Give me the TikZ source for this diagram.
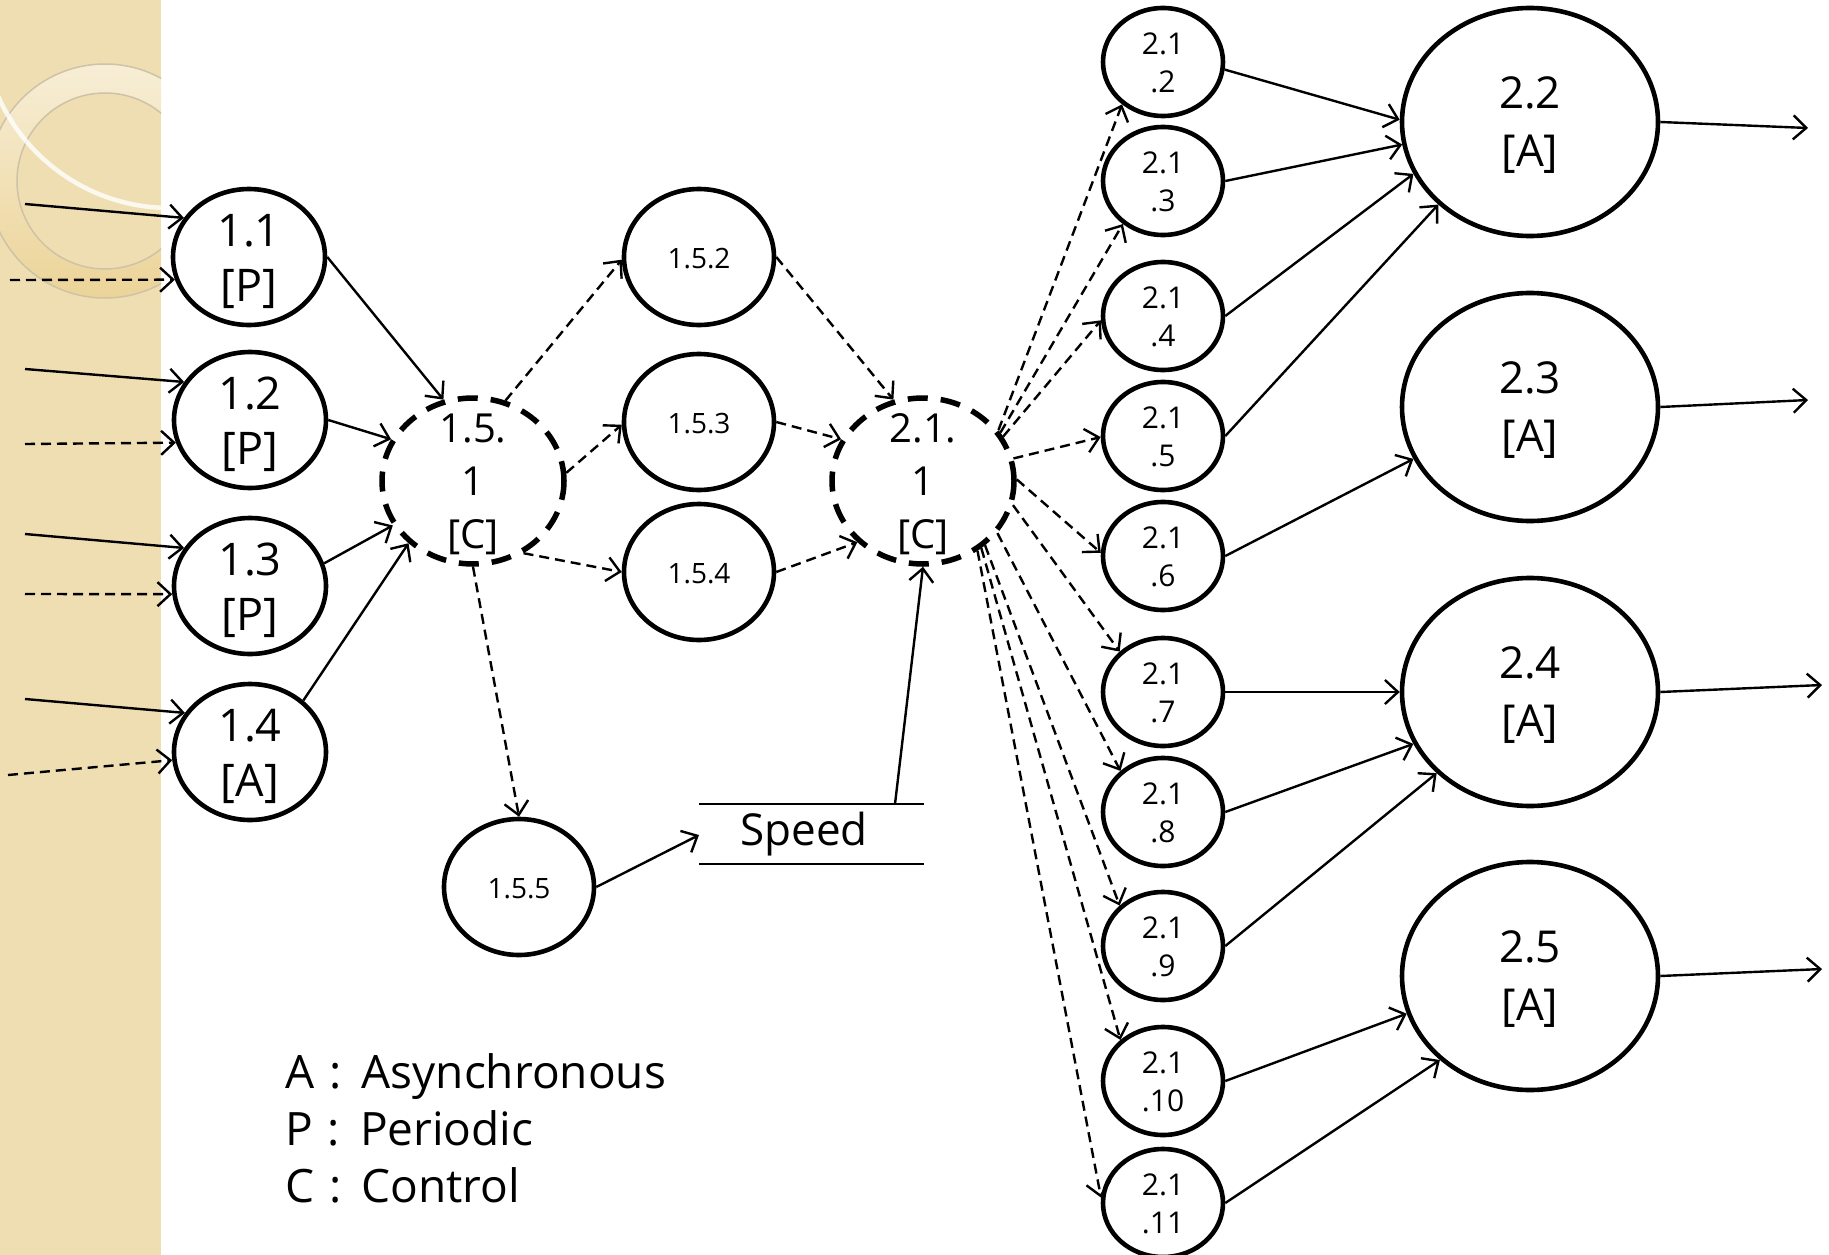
\documentclass[tikz,border=0pt]{standalone}
\usepackage{fontspec}
\setmainfont{Open Sans}
\usetikzlibrary{shapes.geometric,arrows.meta}
\definecolor{strip}{RGB}{239,222,177}
\definecolor{ringtop}{RGB}{247,238,214}
\definecolor{ringbot}{RGB}{236,212,152}
\definecolor{ringedge}{RGB}{206,195,168}
\definecolor{ink}{RGB}{0,0,0}

% invisible strut that lifts the top of a node's first text line
\newcommand{\lift}[1]{\rule{0pt}{#1}}

\tikzset{
  proc/.style={ellipse, draw=ink, line width=4.6pt, inner sep=-30pt, align=center, text=ink},
  bigproc/.style={proc, minimum width=152pt, minimum height=136pt, font=\fontsize{45}{55}\selectfont},
  midproc/.style={proc, minimum width=150pt, minimum height=136pt, font=\fontsize{28}{34}\selectfont},
  smallproc/.style={proc, minimum width=120pt, minimum height=108pt, font=\fontsize{30}{38}\selectfont},
  outproc/.style={proc, minimum width=256pt, minimum height=228pt, font=\fontsize{44}{58}\selectfont},
  ctrlproc/.style={proc, line width=5.5pt, dash pattern=on 20pt off 13pt, minimum width=182pt, minimum height=166pt, font=\fontsize{40}{53}\selectfont},
  flow/.style={line width=2.4pt, -{Straight Barb[length=13pt,width=24pt]}},
  ctl/.style={flow, dash pattern=on 10pt off 6pt},
  storeline/.style={line width=2.2pt},
  legendtext/.style={anchor=base west, inner sep=0pt, font=\fontsize{46}{57}\selectfont},
}

\begin{document}
\begin{tikzpicture}[x=1pt, y=-1pt]
\useasboundingbox (0,0) rectangle (1829,1255);

% left decorative band
\fill[strip] (0,0) rectangle (161,1255);
\begin{scope}
  \clip (0,0) rectangle (161,1255);
  \shade[top color=ringtop, bottom color=ringbot, even odd rule]
    (105,181) circle[radius=117] (105,181) circle[radius=88];
  \draw[ringedge, line width=1.5pt] (105,181) circle[radius=117];
  \draw[ringedge, line width=1.5pt] (105,181) circle[radius=88];
  \draw[white, line width=4.5pt, opacity=0.8] (170,20) circle[radius=188];
\end{scope}

% input processes
\node[bigproc] (n11) at (249,257) {\lift{42pt}1.1\\{[P]}};
\node[bigproc] (n12) at (250,420) {\lift{42pt}1.2\\{[P]}};
\node[bigproc] (n13) at (250,586) {\lift{42pt}1.3\\{[P]}};
\node[bigproc] (n14) at (250,752) {\lift{42pt}1.4\\{[A]}};

% first control process and its children
\node[ctrlproc] (n151) at (473,481) {\lift{35pt}1.5.\\1\\{[C]}};
\node[midproc] (n152) at (699,257) {\lift{24pt}1.5.2};
\node[midproc] (n153) at (699,422) {\lift{24pt}1.5.3};
\node[midproc] (n154) at (699,572) {\lift{24pt}1.5.4};
\node[midproc] (n155) at (519,887) {\lift{24pt}1.5.5};

% data store
\draw[storeline] (699,804) -- (924,804);
\draw[storeline] (699,864) -- (924,864);
\node[anchor=base, inner sep=0pt, font=\fontsize{44}{52}\selectfont] (speed) at (804,845) {Speed};
\coordinate (spin) at (699,835);
\coordinate (spout) at (895,804);

% second control process
\node[ctrlproc] (n211) at (923,481) {\lift{35pt}2.1.\\1\\{[C]}};

% sub-processes of 2.1
\node[smallproc] (n212) at (1163,62) {\lift{24pt}2.1\\.2};
\node[smallproc] (n213) at (1163,181) {\lift{24pt}2.1\\.3};
\node[smallproc] (n214) at (1163,316) {\lift{24pt}2.1\\.4};
\node[smallproc] (n215) at (1163,436) {\lift{24pt}2.1\\.5};
\node[smallproc] (n216) at (1163,556) {\lift{24pt}2.1\\.6};
\node[smallproc] (n217) at (1163,692) {\lift{24pt}2.1\\.7};
\node[smallproc] (n218) at (1163,812) {\lift{24pt}2.1\\.8};
\node[smallproc] (n219) at (1163,946) {\lift{24pt}2.1\\.9};
\node[smallproc] (n2110) at (1163,1081) {\lift{24pt}2.1\\.10};
\node[smallproc] (n2111) at (1163,1203) {\lift{24pt}2.1\\.11};

% output processes
\node[outproc] (n22) at (1530,122) {\lift{38pt}2.2\\{[A]}};
\node[outproc] (n23) at (1530,407) {\lift{38pt}2.3\\{[A]}};
\node[outproc] (n24) at (1530,692) {\lift{38pt}2.4\\{[A]}};
\node[outproc] (n25) at (1530,976) {\lift{38pt}2.5\\{[A]}};

% free ends of external flows
\coordinate (i11s) at (25,204);  \coordinate (i11d) at (10,280);
\coordinate (i12s) at (25,369);  \coordinate (i12d) at (25,444);
\coordinate (i13s) at (25,534);  \coordinate (i13d) at (25,594);
\coordinate (i14s) at (25,699);  \coordinate (i14d) at (8,775);
\coordinate (o22) at (1808,128);
\coordinate (o23) at (1808,400);
\coordinate (o24) at (1822,685);
\coordinate (o25) at (1822,969);

% external inputs
\draw[flow] (i11s) -- (n11.149);  \draw[ctl] (i11d) -- (n11.197);
\draw[flow] (i12s) -- (n12.150);  \draw[ctl] (i12d) -- (n12.197);
\draw[flow] (i13s) -- (n13.150);  \draw[ctl] (i13d) -- (n13.186);
\draw[flow] (i14s) -- (n14.149);  \draw[ctl] (i14d) -- (n14.186);

% into 1.5.1
\draw[flow] (n11.0) -- (n151.110);
\draw[flow] (n12.0) -- (n151.153);
\draw[flow] (n13.17) -- (n151.209);
\draw[flow] (n14.44) -- (n151.224);

% control from 1.5.1
\draw[ctl] (n151.68) -- (n152.182);
\draw[ctl] (n151.5) -- (n153.182);
\draw[ctl] (n151.-55) -- (n154.180);
\draw[ctl] (n151.270) -- (n155.90);

% into 2.1.1
\draw[ctl] (n152.0) -- (n211.110);
\draw[ctl] (n153.0) -- (n211.153);
\draw[ctl] (n154.0) -- (n211.223);
\draw[flow] (n155.0) -- (spin);
\draw[flow] (spout) -- (n211.270);

% control fan from 2.1.1
\draw[ctl] (n211.34) -- (n212.226);
\draw[ctl] (n211.32) -- (n213.227);
\draw[ctl] (n211.29) -- (n214.184);
\draw[ctl] (n211.14) -- (n215.181);
\draw[ctl] (n211.1) -- (n216.177);
\draw[ctl] (n211.-15) -- (n217.137);
\draw[ctl] (n211.-35) -- (n218.136);
\draw[ctl] (n211.-46) -- (n219.137);
\draw[ctl] (n211.-49) -- (n2110.136);
\draw[ctl] (n211.-52) -- (n2111.175);

% into output processes
\draw[flow] (n212.-7) -- (n22.179);
\draw[flow] (n213.0) -- (n22.190);
\draw[flow] (n214.0) -- (n22.204);
\draw[flow] (n215.0) -- (n22.222);
\draw[flow] (n216.0) -- (n23.204);
\draw[flow] (n217.0) -- (n24.180);
\draw[flow] (n218.0) -- (n24.204);
\draw[flow] (n219.0) -- (n24.221);
\draw[flow] (n2110.0) -- (n25.197);
\draw[flow] (n2111.0) -- (n25.223);

% outputs
\draw[flow] (n22.0) -- (o22);
\draw[flow] (n23.0) -- (o23);
\draw[flow] (n24.0) -- (o24);
\draw[flow] (n25.0) -- (o25);

% legend
\node[legendtext] (leg1) at (285,1088) {A\hspace{15pt}:\hspace{20pt}Asynchronous};
\node[legendtext] (leg2) at (285,1145) {P\hspace{15pt}:\hspace{20pt}Periodic};
\node[legendtext] (leg3) at (285,1202) {C\hspace{15pt}:\hspace{20pt}Control};
\end{tikzpicture}
\end{document}
